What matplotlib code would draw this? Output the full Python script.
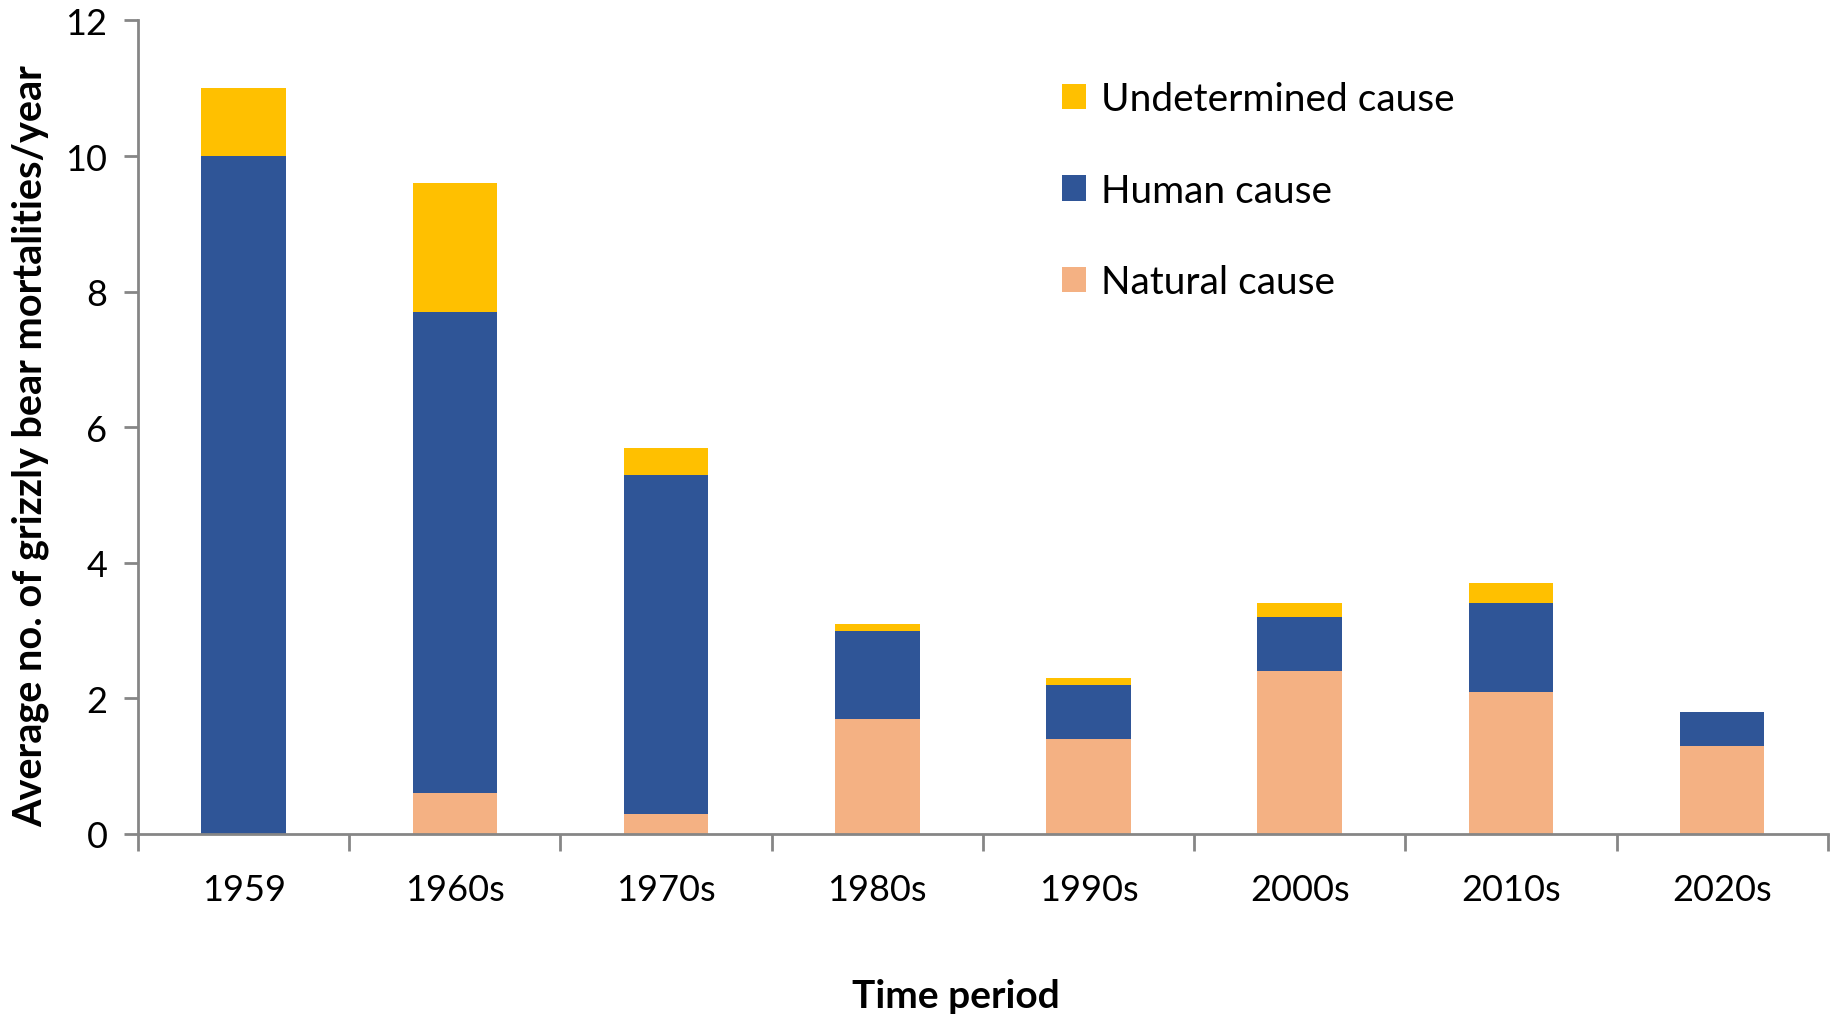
import matplotlib
matplotlib.use('Agg')
import matplotlib.pyplot as plt
import numpy as np

plt.rcParams['font.family'] = ['Lato', 'DejaVu Sans']

# ── data ──
periods = ['1959', '1960s', '1970s', '1980s', '1990s', '2000s', '2010s', '2020s']
natural = [0.0, 0.6, 0.3, 1.7, 1.4, 2.4, 2.1, 1.3]
human = [10.0, 7.1, 5.0, 1.3, 0.8, 0.8, 1.3, 0.5]
undetermined = [1.0, 1.9, 0.4, 0.1, 0.1, 0.2, 0.3, 0.0]

C = {
    'natural': '#F4B183',
    'human': '#2F5597',
    'undet': '#FFC000',
    'axis': '#868686',
}

fig = plt.figure(figsize=(18.37, 10.20), dpi=100)
ax = fig.add_axes([0.0751, 0.1814, 0.9199, 0.7976])

x = np.arange(len(periods))
w = 0.4
nat = np.array(natural)
hum = np.array(human)
und = np.array(undetermined)

b_nat = ax.bar(x, nat, w, color=C['natural'], label='Natural cause', zorder=2)
b_hum = ax.bar(x, hum, w, bottom=nat, color=C['human'], label='Human cause', zorder=2)
b_und = ax.bar(x, und, w, bottom=nat + hum, color=C['undet'], label='Undetermined cause', zorder=2)

ax.set_xlim(-0.5, len(periods) - 0.5)
ax.set_ylim(0, 12)
ax.set_yticks(range(0, 13, 2))
ax.set_xticks(x)
ax.set_xticklabels(periods)
ax.set_xticks(np.arange(-0.5, len(periods)), minor=True)

for s in ['top', 'right']:
    ax.spines[s].set_visible(False)
for s in ['left', 'bottom']:
    ax.spines[s].set_color(C['axis'])
    ax.spines[s].set_linewidth(2)

ax.tick_params(axis='y', direction='out', length=10, width=2, color=C['axis'],
               labelsize=26, pad=12)
ax.tick_params(axis='x', which='major', length=0, labelsize=26, pad=28)
ax.tick_params(axis='x', which='minor', direction='out', length=12, width=2,
               color=C['axis'])

ax.set_ylabel('Average no. of grizzly bear mortalities/year', fontsize=28.5,
              fontweight='bold', labelpad=12, y=0.478)
ax.set_xlabel('Time period', fontsize=28, fontweight='bold', labelpad=52, x=0.484)

leg = ax.legend(handles=[b_und, b_hum, b_nat], loc='upper left',
                bbox_to_anchor=(0.526, 0.968), frameon=False, fontsize=28,
                handlelength=0.62, handleheight=0.62, handletextpad=0.4,
                labelspacing=1.42)

fig.savefig('out.png', dpi=100, facecolor='white')
